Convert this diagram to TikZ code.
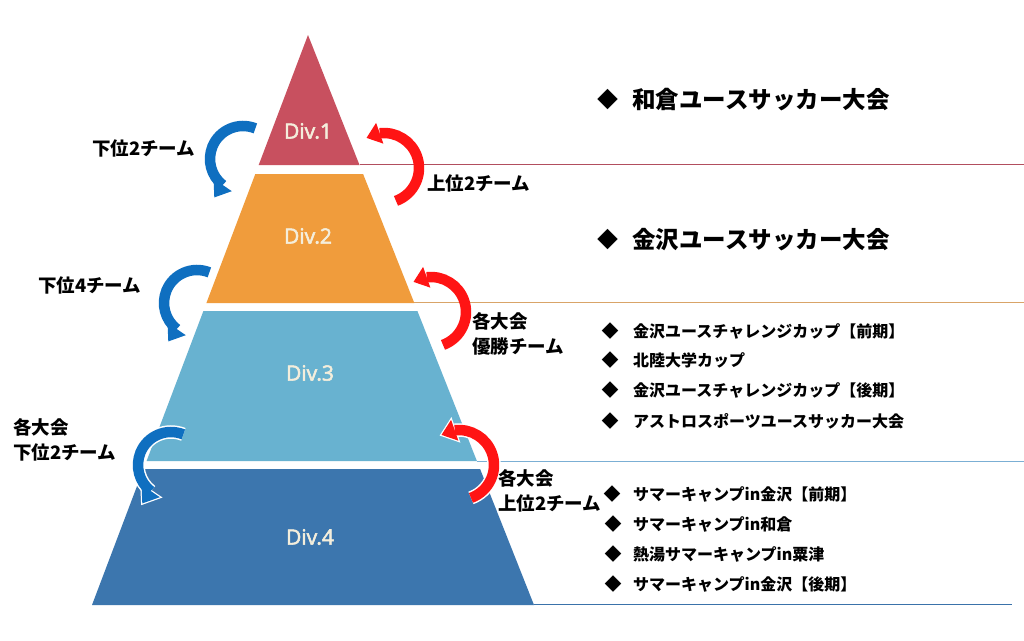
\documentclass[tikz,border=0pt]{standalone}
\usepackage{fontspec}
\setmainfont{Noto Sans CJK JP}
\newfontfamily\divfont[FakeBold=2.5]{Open Sans}
\usetikzlibrary{calc}
\definecolor{cdivA}{HTML}{C8505F}
\definecolor{cdivB}{HTML}{F09C3C}
\definecolor{cdivC}{HTML}{68B2D0}
\definecolor{cdivD}{HTML}{3C76AE}
\definecolor{clineA}{HTML}{B24E5E}
\definecolor{clineB}{HTML}{D9A468}
\definecolor{clineC}{HTML}{7BAFD4}
\definecolor{clineD}{HTML}{3A72AA}
\definecolor{arrblue}{HTML}{0F6FC0}
\definecolor{arrred}{HTML}{FF1414}
\definecolor{divtext}{HTML}{F4EEDC}
\tikzset{
  sepline/.style={line width=1.6pt},
  divlabel/.style={text=divtext, font=\divfont\fontsize{21}{24}\selectfont},
  sidelabel/.style={font=\fontsize{18.5}{25}\selectfont\bfseries, align=left, inner sep=0pt, anchor=west},
  heading/.style={font=\fontsize{23.5}{28}\selectfont\bfseries, inner sep=0pt, anchor=west},
  headdiamond/.style={font=\fontsize{21}{24}\selectfont, inner sep=0pt},
  item/.style={font=\fontsize{16}{20}\selectfont\bfseries, inner sep=0pt, anchor=west},
  itemdiamond/.style={font=\fontsize{17}{20}\selectfont, inner sep=0pt},
  arcstroke/.style={line width=10.5pt},
  outline/.style={draw=white, line width=2.5pt, line join=miter},
}
% blue curved arrow: #1 centre, #2 colour
\newcommand{\bluecurve}[2]{%
  \draw[arcstroke, #2] ($(#1)+(-68:33)$) arc[start angle=-68, end angle=-232, radius=33];
  \fill[#2] ($(#1)+(-232:33)+(34:11)$) -- ($(#1)+(-232:33)+(124:15)$) -- ($(#1)+(-232:33)+(-146:11)$) -- cycle;
}
\newcommand{\redcurve}[2]{%
  \draw[arcstroke, #2] ($(#1)+(70:35)$) arc[start angle=70, end angle=-97, radius=35];
  \fill[#2] ($(#1)+(-97:35)+(70.7:11)$) -- ($(#1)+(-97:35)+(160.7:14)$) -- ($(#1)+(-97:35)+(-109.3:11)$) -- cycle;
}
\newcommand{\bluecurveoutline}[1]{%
  \draw[line width=13.5pt, white] ($(#1)+(-68:33)$) arc[start angle=-68, end angle=-232, radius=33];
  \filldraw[outline] ($(#1)+(-232:33)+(34:11)$) -- ($(#1)+(-232:33)+(124:15)$) -- ($(#1)+(-232:33)+(-146:11)$) -- cycle;
}
\newcommand{\redcurveoutline}[1]{%
  \draw[line width=13.5pt, white] ($(#1)+(70:35)$) arc[start angle=70, end angle=-97, radius=35];
  \filldraw[outline] ($(#1)+(-97:35)+(70.7:11)$) -- ($(#1)+(-97:35)+(160.7:14)$) -- ($(#1)+(-97:35)+(-109.3:11)$) -- cycle;
}
\begin{document}
\begin{tikzpicture}[x=1pt,y=-1pt]
\useasboundingbox[fill=white] (0,0) rectangle (1024,640);

% pyramid layers
\fill[cdivA] (308,35) -- (359.5,165) -- (258.7,165) -- cycle;
\fill[cdivB] (255.3,174) -- (363.1,174) -- (414.3,303) -- (206.4,303) -- cycle;
\fill[cdivC] (203.4,311) -- (417.4,311) -- (476.9,461) -- (146.6,461) -- cycle;
\fill[cdivD] (143.5,469) -- (480.1,469) -- (534,605) -- (92,605) -- cycle;

% separator lines
\coordinate (la) at (359.5,164.5); \coordinate (lae) at (1024,164.5);
\coordinate (lb) at (414.3,302.5); \coordinate (lbe) at (1024,302.5);
\coordinate (lc) at (476.9,461.5); \coordinate (lce) at (1024,461.5);
\coordinate (ld) at (534,604.5);   \coordinate (lde) at (1012,604.5);
\draw[sepline, clineA] (la) -- (lae);
\draw[sepline, clineB] (lb) -- (lbe);
\draw[sepline, clineC] (lc) -- (lce);
\draw[sepline, clineD] (ld) -- (lde);

% division labels
\node[divlabel] (d1) at (308,131) {Div.1};
\node[divlabel] (d2) at (308,236) {Div.2};
\node[divlabel] (d3) at (310,373) {Div.3};
\node[divlabel] (d4) at (310,537) {Div.4};

% arrows
\coordinate (cb1) at (243,159);
\coordinate (cb2) at (197,303);
\coordinate (cb3) at (171,465);
\coordinate (cr1) at (384,168);
\coordinate (cr2) at (431,312);
\coordinate (cr3) at (459,465);

\bluecurve{cb1}{arrblue}
\bluecurve{cb2}{arrblue}
\bluecurveoutline{cb3}
\bluecurve{cb3}{arrblue}
\redcurve{cr1}{arrred}
\redcurve{cr2}{arrred}
\redcurveoutline{cr3}
\redcurve{cr3}{arrred}

% side labels
\node[sidelabel] (s1) at (92,148) {下位2チーム};
\node[sidelabel] (s2) at (427,183) {上位2チーム};
\node[sidelabel] (s3) at (38,285) {下位4チーム};
\node[sidelabel] (s4) at (472,334) {各大会\\優勝チーム};
\node[sidelabel] (s5) at (13,440) {各大会\\下位2チーム};
\node[sidelabel] (s6) at (498,491) {各大会\\上位2チーム};

% headings
\node[headdiamond] (hd1) at (608,100) {◆};
\node[heading] (h1) at (632,100) {和倉ユースサッカー大会};
\node[headdiamond] (hd2) at (608,240) {◆};
\node[heading] (h2) at (632,240) {金沢ユースサッカー大会};

% Div.3 list
\node[itemdiamond] (a1d) at (610,331) {◆};
\node[item] (a1) at (633,331) {金沢ユースチャレンジカップ【前期】};
\node[itemdiamond] (a2d) at (610,360) {◆};
\node[item] (a2) at (633,360) {北陸大学カップ};
\node[itemdiamond] (a3d) at (610,390) {◆};
\node[item] (a3) at (633,390) {金沢ユースチャレンジカップ【後期】};
\node[itemdiamond] (a4d) at (610,421) {◆};
\node[item] (a4) at (633,421) {アストロスポーツユースサッカー大会};

% Div.4 list
\node[itemdiamond] (b1d) at (612,494) {◆};
\node[item] (b1) at (633,494) {サマーキャンプin金沢【前期】};
\node[itemdiamond] (b2d) at (613,524) {◆};
\node[item] (b2) at (633,524) {サマーキャンプin和倉};
\node[itemdiamond] (b3d) at (613,554) {◆};
\node[item] (b3) at (633,554) {熱湯サマーキャンプin粟津};
\node[itemdiamond] (b4d) at (613,584) {◆};
\node[item] (b4) at (633,584) {サマーキャンプin金沢【後期】};
\end{tikzpicture}
\end{document}
